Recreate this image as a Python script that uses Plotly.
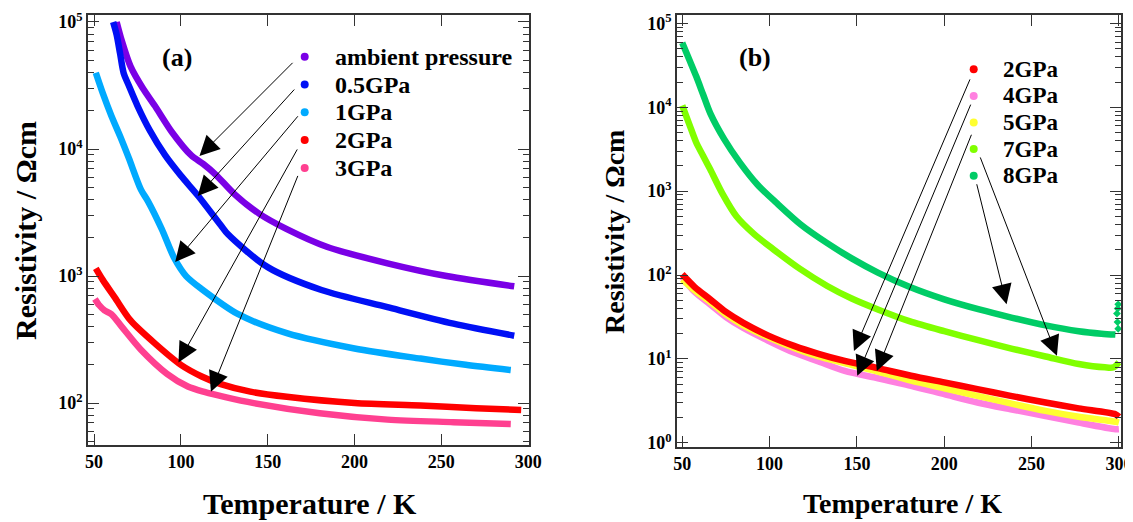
import math
import plotly.graph_objects as go
from plotly.subplots import make_subplots

W, H = 1133, 522
PAGE_PAD = 8  # default body margin of the html page
FONT = "Liberation Serif, Times New Roman, serif"

# ---- panel (a) data: temperature (K) / resistivity (Ohm cm)
t_amb = [63, 66, 71, 78, 85, 95, 106, 113, 120, 131, 145, 161, 184, 219, 253, 292]
r_amb = [100000, 70800, 44700, 30200, 21900, 13500, 8900, 7600, 6300, 4400, 3100, 2340, 1700, 1260, 1000, 830]

t_05 = [61, 63, 65, 67, 70, 75, 82, 91, 100, 110, 123, 127, 150, 181, 219, 257, 292]
r_05 = [100000, 79400, 56200, 39800, 31600, 21900, 14100, 8900, 6170, 4270, 2510, 2140, 1175, 776, 569, 422, 339]

t_1 = [51, 55, 60, 65, 70, 77, 81, 89, 96, 103, 112, 133, 161, 200, 238, 264, 290]
r_1 = [39800, 27500, 18200, 12600, 8500, 4790, 3890, 2340, 1400, 1000, 790, 501, 355, 269, 224, 200, 182]

t_2a = [51, 55, 62, 71, 85, 100, 112, 123, 140, 161, 200, 238, 270, 296]
r_2a = [1150, 933, 676, 447, 295, 200, 162, 141, 123, 112, 100, 95.5, 91.2, 88.1]

t_3 = [50.5, 53, 56, 60, 66, 77, 92, 104, 114, 125, 142, 180, 219, 257, 290]
r_3 = [661, 589, 537, 501, 398, 263, 170, 135, 122, 112, 100, 83.2, 74.1, 70.8, 68.4]

# ---- panel (b) data
t_8 = [50, 54, 58, 62, 66, 74, 83, 93, 104, 118, 133, 147, 162, 180, 200, 220, 239, 258, 277, 290, 298]
r_8 = [58900, 37200, 23400, 14100, 8510, 4170, 2190, 1200, 724, 398, 240, 158, 107, 72.4, 51.3, 38.9, 30.9,
       25.1, 21.4, 20.0, 19.5]
t_8_end = [299.6, 299.2, 298.9, 299.3, 299.6]
r_8_end = [22.9, 27.5, 34.7, 39.8, 44.7]

t_7 = [50, 54, 58, 62, 66, 73, 81, 91, 102, 117, 133, 147, 162, 180, 200, 220, 239, 258, 277, 292, 297, 300]
r_7 = [10500, 6310, 3800, 2630, 1820, 933, 501, 309, 204, 120, 74.1, 52.5, 38.9, 28.2, 21.4, 16.6, 13.2,
       10.7, 8.71, 7.94, 7.94, 9.12]

t_low = [50, 57, 66, 75, 85, 99, 114, 128, 143, 162, 181, 200, 219, 238, 258, 277, 298, 300]
r_2b = [102, 72.4, 51.3, 36.3, 26.9, 19.1, 14.3, 11.5, 9.46, 7.76, 6.31, 5.25, 4.37, 3.63, 3.02, 2.57, 2.19, 2.04]
r_5 = [89.1, 66.1, 47.9, 33.9, 25.1, 18.2, 13.5, 10.7, 8.91, 7.08, 5.50, 4.47, 3.63, 2.95, 2.40, 2.04, 1.78, 1.74]
r_4 = [95.5, 63.1, 44.7, 31.6, 23.4, 16.6, 11.9, 9.33, 7.19, 5.89, 4.79, 3.80, 3.02, 2.51, 2.09, 1.74, 1.45, 1.45]

labels_a = ["ambient pressure", "0.5GPa", "1GPa", "2GPa", "3GPa"]
colors_a = ["#7a00e6", "#0010f5", "#00aaff", "#ff0000", "#ff4090"]
labels_b = ["2GPa", "4GPa", "5GPa", "7GPa", "8GPa"]
colors_b = ["#ff0000", "#ff80e0", "#ffff30", "#80ff00", "#00cc66"]

x_ticks = [50, 100, 150, 200, 250, 300]
y_ticks_a = [100, 1000, 10000, 100000]
y_text_a = ["10<sup>2</sup>", "10<sup>3</sup>", "10<sup>4</sup>", "10<sup>5</sup>"]
y_ticks_b = [1, 10, 100, 1000, 10000, 100000]
y_text_b = ["10<sup>0</sup>", "10<sup>1</sup>", "10<sup>2</sup>", "10<sup>3</sup>", "10<sup>4</sup>", "10<sup>5</sup>"]

# arrows: (tip T, tip rho, tail T, tail rho)
arrows_a = [(110.7, 8800, 165.2, 49000), (109.7, 4270, 166.1, 30200), (96.7, 1290, 168.1, 18600),
            (98.6, 209, 167.5, 10200), (117.3, 123, 167.7, 6310)]
arrows_b = [(148.3, 12.4, 215.1, 22400), (150.2, 6.3, 215.5, 11200), (161.4, 7.2, 215.9, 4900),
            (264.5, 10.9, 220.3, 2630), (235.7, 44.7, 218.4, 1260)]

FW, FH = W - PAGE_PAD, H - PAGE_PAD


# page pixel -> paper fraction
def px_x(p):
    return (p - PAGE_PAD) / FW


def px_y(p):
    return 1 - (p - PAGE_PAD) / FH


fig = make_subplots(rows=1, cols=2)

series_a = [(t_amb, r_amb), (t_05, r_05), (t_1, r_1), (t_2a, r_2a), (t_3, r_3)]
for (t, r), c, name in zip(series_a, colors_a, labels_a):
    fig.add_trace(go.Scatter(x=t, y=r, mode="lines", name=name,
                             line=dict(color=c, width=6.5, shape="spline", smoothing=0.8),
                             showlegend=False), row=1, col=1)

series_b = [(t_8, r_8, 4), (t_7, r_7, 3), (t_low, r_4, 1), (t_low, r_5, 2), (t_low, r_2b, 0)]
for t, r, k in series_b:
    fig.add_trace(go.Scatter(x=t, y=r, mode="lines", name=labels_b[k],
                             line=dict(color=colors_b[k], width=6.5, shape="spline", smoothing=0.8),
                             showlegend=False), row=1, col=2)
fig.add_trace(go.Scatter(x=t_8_end, y=r_8_end, mode="markers", name=labels_b[4],
                         marker=dict(color=colors_b[4], size=6, symbol="diamond"),
                         showlegend=False), row=1, col=2)


def minor_vals(lo, hi):
    return [m * 10 ** e for e in range(lo, hi) for m in range(2, 10)]


axis_common = dict(showline=True, linecolor="#333", linewidth=1.5, mirror="ticks", ticks="inside",
                   ticklen=11, tickwidth=1.3, tickcolor="#333", showgrid=False, zeroline=False,
                   automargin=False,
                   tickfont=dict(family=FONT, size=18, color="black", weight="bold"))

fig.update_xaxes(axis_common, tickmode="array", tickvals=x_ticks)
fig.update_xaxes(domain=[px_x(88), px_x(529)], range=[46.5, 300.5], row=1, col=1)
fig.update_xaxes(domain=[px_x(677), px_x(1121)], range=[47, 301.2], row=1, col=2)

fig.update_yaxes(axis_common, type="log",
                 minor=dict(ticks="inside", ticklen=6, tickcolor="#333", tickmode="array", showgrid=False))
fig.update_yaxes(domain=[px_y(445), px_y(15)], range=[1.67, 5.055], tickvals=y_ticks_a, ticktext=y_text_a,
                 minor_tickvals=minor_vals(1, 5), row=1, col=1)
fig.update_yaxes(domain=[px_y(447), px_y(15)], range=[-0.05, 5.1], tickvals=y_ticks_b, ticktext=y_text_b,
                 minor_tickvals=minor_vals(0, 5), row=1, col=2)

annotations = []
for xr, yr, arrows in (("x", "y", arrows_a), ("x2", "y2", arrows_b)):
    for tx, ty, sx, sy in arrows:
        annotations.append(dict(x=tx, y=math.log10(ty), ax=sx, ay=math.log10(sy), xref=xr, yref=yr,
                                axref=xr, ayref=yr, text="", showarrow=True, arrowhead=2, arrowsize=4,
                                arrowwidth=1, arrowcolor="black", standoff=0))

bold = dict(family=FONT, color="black", weight="bold")
shapes = []
# legends
for i, (lab, c) in enumerate(zip(labels_a, colors_a)):
    cy = 56.7 + i * 27.8
    annotations.append(dict(x=px_x(333), y=px_y(cy), xref="paper", yref="paper", text=lab, showarrow=False,
                            xanchor="left", yanchor="middle", font=dict(bold, size=24)))
    shapes.append(dict(type="circle", xref="paper", yref="paper", x0=px_x(300.7), x1=px_x(308.7),
                       y0=px_y(cy + 4), y1=px_y(cy - 4), fillcolor=c, line=dict(width=0)))
for i, (lab, c) in enumerate(zip(labels_b, colors_b)):
    cy = 69.3 + i * 26.6
    annotations.append(dict(x=px_x(1001), y=px_y(cy), xref="paper", yref="paper", text=lab, showarrow=False,
                            xanchor="left", yanchor="middle", font=dict(bold, size=23)))
    shapes.append(dict(type="circle", xref="paper", yref="paper", x0=px_x(969.7), x1=px_x(977.7),
                       y0=px_y(cy + 4), y1=px_y(cy - 4), fillcolor=c, line=dict(width=0)))

# panel labels and axis titles
annotations += [
    dict(x=px_x(177), y=px_y(57), text="(a)", font=dict(bold, size=26)),
    dict(x=px_x(755), y=px_y(58), text="(b)", font=dict(bold, size=26)),
    dict(x=px_x(25), y=px_y(231), text="Resistivity / Ωcm", textangle=-90, font=dict(bold, size=30)),
    dict(x=px_x(614), y=px_y(232), text="Resistivity / Ωcm", textangle=-90, font=dict(bold, size=28)),
    dict(x=px_x(310), y=px_y(503), text="Temperature / K", font=dict(bold, size=30)),
    dict(x=px_x(902), y=px_y(503), text="Temperature / K", font=dict(bold, size=28)),
]
for a in annotations[-6:]:
    a.update(xref="paper", yref="paper", showarrow=False, xanchor="center", yanchor="middle")

fig.update_layout(width=FW, height=FH, margin=dict(l=0, r=0, t=0, b=0), paper_bgcolor="white",
                  plot_bgcolor="white", showlegend=False, annotations=annotations, shapes=shapes)

fig.write_html("out.html")
